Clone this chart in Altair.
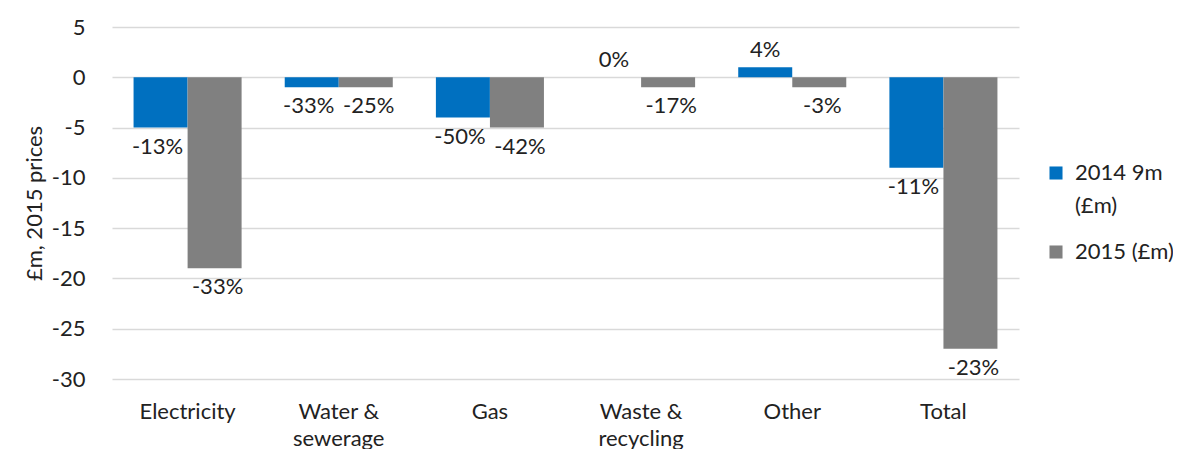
import altair as alt
import pandas as pd

categories = ["Electricity", "Water &|sewerage", "Gas", "Waste &|recycling", "Other", "Total"]
series_names = ["2014 9m|(£m)", "2015 (£m)"]
v2014 = [-5, -1, -4, 0, 1, -9]
v2015 = [-19, -1, -5, -1, -1, -27]
p2014 = ["-13%", "-33%", "-50%", "0%", "4%", "-11%"]
p2015 = ["-33%", "-25%", "-42%", "-17%", "-3%", "-23%"]
y_ticks = [5, 0, -5, -10, -15, -20, -25, -30]

rows = []
for i, c in enumerate(categories):
    rows.append({"cat": c, "series": series_names[0], "s": 0, "value": v2014[i], "pct": p2014[i]})
    rows.append({"cat": c, "series": series_names[1], "s": 1, "value": v2015[i], "pct": p2015[i]})
df = pd.DataFrame(rows)

FONT = "Lato"
FS = 22

x = alt.X("cat:N", sort=categories, title=None,
          scale=alt.Scale(paddingInner=0.285, paddingOuter=0.1425),
          axis=alt.Axis(labelExpr="split(datum.label, '|')", labelAngle=0,
                        labelFontSize=FS, labelColor="#222", labelFont=FONT,
                        labelLineHeight=27, labelPadding=22, ticks=False,
                        domain=False, labelBaseline="top"))
xo = alt.XOffset("series:N", sort=series_names, scale=alt.Scale(paddingInner=0, paddingOuter=0))
y = alt.Y("value:Q", title="£m, 2015 prices",
          scale=alt.Scale(domain=[-30, 5], nice=False, zero=False),
          axis=alt.Axis(values=y_ticks, grid=True, gridColor="#d9d9d9", gridWidth=1.3,
                        domain=False, ticks=False, labelPadding=27, labelFontSize=FS,
                        labelExpr="datum.value < 0 ? '-' + abs(datum.value) : '' + datum.value",
                        labelFont=FONT, labelColor="#222", titleFont=FONT,
                        titleFontSize=22, titleFontWeight="normal", titleColor="#222",
                        titlePadding=5))
color = alt.Color("series:N", sort=series_names,
                  scale=alt.Scale(domain=series_names, range=["#0070C0", "#808080"]),
                  legend=alt.Legend(title=None, orient="none", legendX=933, legendY=135,
                                    symbolType="square", symbolSize=170, symbolStrokeWidth=0,
                                    labelExpr="split(datum.label, '|')",
                                    labelFontSize=FS, labelFont=FONT, labelColor="#222",
                                    rowPadding=24, labelOffset=8))

bars = alt.Chart(df).mark_bar(size=54).encode(x=x, xOffset=xo, y=y, color=color)

layers = [bars]
for s, dxv in [(0, -3), (1, 3)]:
    layers.append(alt.Chart(df).transform_filter(f"datum.s == {s} && datum.value < 0").mark_text(
        baseline="top", dy=9, dx=dxv, fontSize=FS, font=FONT, color="#222"
    ).encode(x=x, xOffset=xo, y=y, text="pct:N"))
layers.append(alt.Chart(df).transform_filter("datum.value >= 0").mark_text(
    baseline="bottom", dy=-5, fontSize=FS, font=FONT, color="#222"
).encode(x=x, xOffset=xo, y=y, text="pct:N"))

chart = alt.layer(*layers).properties(
    width=907, height=352,
    autosize=alt.AutoSizeParams(type="none"),
    padding={"left": 104, "top": 19, "right": 154, "bottom": 70},
).configure(
    view={"stroke": None},
    style={"guide-label": {"lineHeight": 33}},
)

chart.save("out.html", embed_options={"renderer": "svg", "actions": False})
